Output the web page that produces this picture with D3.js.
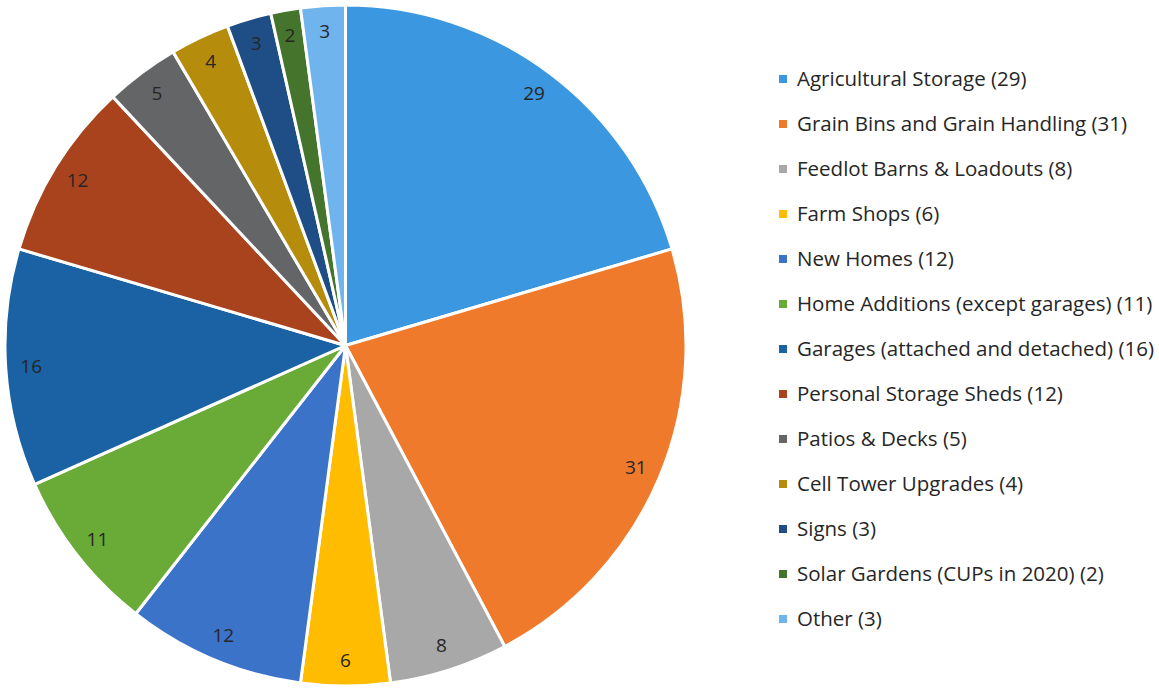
<!DOCTYPE html>
<html>
<head>
<meta charset="utf-8">
<script src="https://cdn.jsdelivr.net/npm/d3@7"></script>
<style>
	body { margin: 0; background: #fff; }
	#content { width: 1159px; height: 691px; }
</style>
</head>
<body>
<div id="content"></div>
<script>

// Permit categories and counts
var categories = [
	"Agricultural Storage",
	"Grain Bins and Grain Handling",
	"Feedlot Barns & Loadouts",
	"Farm Shops",
	"New Homes",
	"Home Additions (except garages)",
	"Garages (attached and detached)",
	"Personal Storage Sheds",
	"Patios & Decks",
	"Cell Tower Upgrades",
	"Signs",
	"Solar Gardens (CUPs in 2020)",
	"Other"
];
var counts = [29, 31, 8, 6, 12, 11, 16, 12, 5, 4, 3, 2, 3];
var colors = ["#3a97e0", "#f07a2c", "#a8a8a8", "#ffbc00", "#3a73c8", "#6aab38",
	"#1a62a4", "#a9431e", "#636566", "#b68c0c", "#1f4e86", "#45752c", "#70b4ee"];

function main() {
	var width = 1159, height = 691;

	var svg = d3.select("#content")
		.append("svg")
		.attr("width", width)
		.attr("height", height);

	var cx = 345.5, cy = 345.5, radius = 340.5;

	var rows = categories.map(function (c, i) {
		return { name: c, value: counts[i], color: colors[i] };
	});

	var pie = d3.pie()
		.value(function (d) { return d.value; })
		.sort(null);

	var arc = d3.arc()
		.innerRadius(0)
		.outerRadius(radius);

	var labelArc = d3.arc()
		.innerRadius(radius * 0.925)
		.outerRadius(radius * 0.925);

	var pieGroup = svg.append("g")
		.attr("transform", `translate(${cx}, ${cy})`);

	var slices = pieGroup.selectAll(".slice")
		.data(pie(rows))
		.enter()
		.append("g")
		.attr("class", "slice");

	slices.append("path")
		.attr("d", arc)
		.attr("fill", function (d) { return d.data.color; })
		.attr("stroke", "white")
		.attr("stroke-width", 3)
		.attr("stroke-linejoin", "round");

	// value labels near the rim
	slices.append("text")
		.attr("transform", function (d) { return "translate(" + labelArc.centroid(d) + ")"; })
		.attr("text-anchor", "middle")
		.attr("dy", "0.35em")
		.attr("font-family", "'Open Sans', sans-serif")
		.attr("font-size", 19)
		.attr("fill", "#262626")
		.text(function (d) { return d.data.value; });

	// legend
	var legendY = d3.scalePoint()
		.domain(categories)
		.range([79, 619]);

	var legend = svg.append("g")
		.attr("class", "legend")
		.selectAll("g")
		.data(rows)
		.enter()
		.append("g")
		.attr("transform", function (d) { return `translate(779, ${legendY(d.name)})`; });

	legend.append("rect")
		.attr("x", 0)
		.attr("y", -4)
		.attr("width", 8)
		.attr("height", 8)
		.attr("fill", function (d) { return d.color; });

	legend.append("text")
		.attr("x", 18)
		.attr("dy", "0.35em")
		.attr("font-family", "'Open Sans', sans-serif")
		.attr("font-size", 20.5)
		.attr("fill", "#262626")
		.text(function (d) { return d.name + " (" + d.value + ")"; });
}

(() => {
	main();
})()
</script>
</body>
</html>
